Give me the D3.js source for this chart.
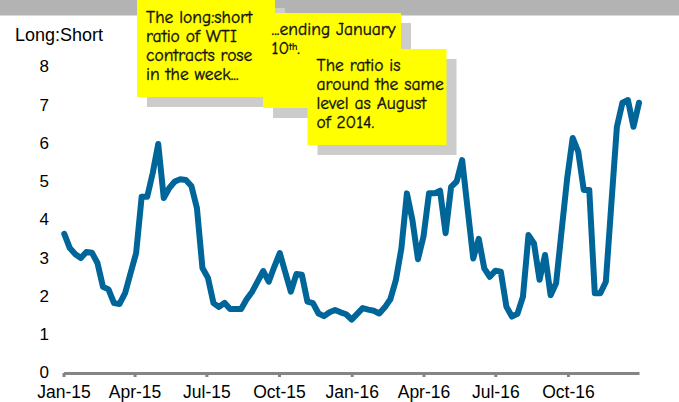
<!DOCTYPE html>
<html>
<head>
<meta charset="utf-8">
<script src="https://cdn.jsdelivr.net/npm/d3@7"></script>
<style>
  html, body { margin: 0; padding: 0; background: #fff; }
  svg { display: block; }
</style>
</head>
<body>
<script>
// weekly long:short ratio of WTI contracts
const firstWeek = new Date(2015, 0, 2);
const ratio = [
  3.61, 3.24, 3.08, 2.98, 3.14, 3.12, 2.85, 2.23, 2.16, 1.80,
  1.78, 2.06, 2.59, 3.11, 4.58, 4.58, 5.20, 5.96, 4.55, 4.81,
  4.98, 5.04, 5.02, 4.86, 4.29, 2.72, 2.46, 1.80, 1.70, 1.81,
  1.65, 1.65, 1.65, 1.90, 2.10, 2.37, 2.64, 2.36, 2.75, 3.11,
  2.60, 2.10, 2.56, 2.54, 1.84, 1.80, 1.53, 1.46, 1.56, 1.62,
  1.56, 1.51, 1.37, 1.52, 1.67, 1.63, 1.60, 1.53, 1.69, 1.90,
  2.40, 3.23, 4.67, 3.97, 2.95, 3.54, 4.67, 4.67, 4.74, 3.63,
  4.84, 4.98, 5.54, 4.25, 2.97, 3.48, 2.71, 2.49, 2.65, 2.62,
  1.71, 1.45, 1.52, 1.97, 3.58, 3.36, 2.41, 3.06, 2.01, 2.32,
  3.70, 5.06, 6.12, 5.76, 4.76, 4.76, 2.06, 2.06, 2.36, 4.40,
  6.41, 7.04, 7.11, 6.41, 7.04
];
const xTickLabels = ["Jan-15", "Apr-15", "Jul-15", "Oct-15", "Jan-16", "Apr-16", "Jul-16", "Oct-16"];
const yTicks = [0, 1, 2, 3, 4, 5, 6, 7, 8];
const notes = [
  ["The long:short", "ratio of WTI", "contracts rose", "in the week..."],
  ["...ending January", "10|th|."],
  ["The ratio is", "around the same", "level as August", "of 2014."]
];

const W = 679, H = 402;
const weeks = ratio.map((v, i) => d3.timeDay.offset(firstWeek, 7 * i));
const parseTick = d3.timeParse("%b-%y");
const tickDates = xTickLabels.map(parseTick);

const svg = d3.select("body").append("svg")
  .attr("width", W)
  .attr("height", H);

const x = d3.scaleTime()
  .domain([new Date(2015, 0, 1), weeks[weeks.length - 1]])
  .range([63.5, 639]);
const y = d3.scaleLinear().domain([0, 8]).range([372, 66]);

const font = "'Liberation Sans', Arial, sans-serif";

// grey header strip
svg.append("rect").attr("x", 0).attr("y", 0).attr("width", W).attr("height", 15.5).attr("fill", "#b3b3b3");

svg.append("text")
  .attr("x", 15).attr("y", 41)
  .style("font-family", font).style("font-size", "18px")
  .text("Long:Short");

// y labels
const yAxis = svg.append("g")
  .attr("transform", "translate(49,0)")
  .call(d3.axisLeft(y).tickValues(yTicks).tickSize(0).tickPadding(0).tickFormat(d3.format("d")));
yAxis.select(".domain").remove();
yAxis.selectAll("text").style("font-family", font).style("font-size", "17px").attr("fill", "#000").attr("dy", "0.35em");

// x axis
const xAxis = svg.append("g")
  .attr("transform", "translate(0,373)")
  .call(d3.axisBottom(x).tickValues(tickDates).tickSize(4).tickSizeOuter(0).tickPadding(9)
    .tickFormat((d, i) => xTickLabels[i]));
xAxis.select(".domain").attr("stroke", "#858585").attr("stroke-width", 3.2);
xAxis.selectAll(".tick line").attr("stroke", "#858585").attr("stroke-width", 3);
xAxis.selectAll("text").style("font-family", font).style("font-size", "17.5px").attr("fill", "#000");

// ratio line
const line = d3.line()
  .x((d, i) => x(weeks[i]))
  .y(d => y(d));

svg.append("path")
  .datum(ratio)
  .attr("fill", "none")
  .attr("stroke", "#00669a")
  .attr("stroke-width", 6)
  .attr("stroke-linejoin", "round")
  .attr("stroke-linecap", "round")
  .attr("d", line);

// yellow sticky notes with grey shadows
const boxes = [
  { x: 137, y: -2, w: 138, h: 99, tx: 146, ty: 23, lh: 19 },
  { x: 263, y: 13, w: 138, h: 95, tx: 271.5, ty: 35, lh: 19 },
  { x: 307.5, y: 49, w: 139, h: 96, tx: 316.5, ty: 70.5, lh: 19.2 }
];
const noteFont = "'Comic Sans MS', 'Comic Neue', 'DejaVu Sans', sans-serif";

boxes.forEach((b, k) => {
  svg.append("rect").attr("x", b.x + 10).attr("y", b.y + 10).attr("width", b.w).attr("height", b.h).attr("fill", "#cccccc");
  svg.append("rect").attr("x", b.x).attr("y", b.y).attr("width", b.w).attr("height", b.h).attr("fill", "#ffff00");
  const t = svg.append("text")
    .style("font-family", noteFont).style("font-size", "17.5px")
    .style("stroke", "#111").style("stroke-width", 0.35).attr("fill", "#111");
  notes[k].forEach((ln, j) => {
    const parts = ln.split("|");
    t.append("tspan").attr("x", b.tx).attr("y", b.ty + j * b.lh).text(parts[0]);
    if (parts.length > 1) {
      t.append("tspan").attr("dy", -4).style("font-size", "10px").text(parts[1]);
      t.append("tspan").attr("dy", 4).text(parts[2]);
    }
  });
});
</script>
</body>
</html>
